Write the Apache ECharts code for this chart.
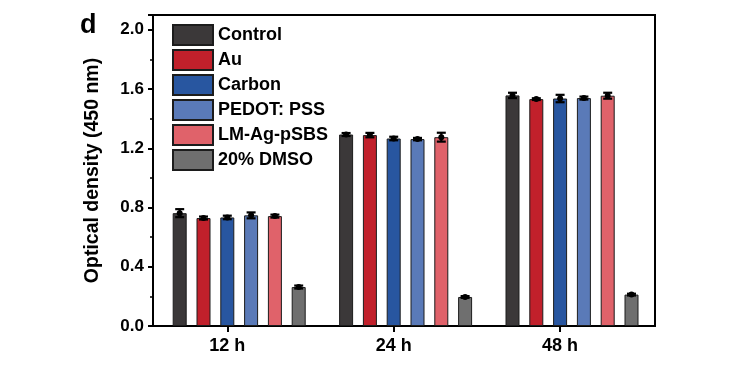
<!DOCTYPE html>
<html>
<head>
<meta charset="utf-8">
<script src="https://cdn.jsdelivr.net/npm/echarts@6/dist/echarts.min.js"></script>
<style>html,body{margin:0;padding:0;background:#fff;}#c{width:756px;height:378px;}</style>
</head>
<body>
<div id="c"></div>
<script>
const categories = ['12 h', '24 h', '48 h'];
const seriesNames = ['Control', 'Au', 'Carbon', 'PEDOT: PSS', 'LM-Ag-pSBS', '20% DMSO'];
const controlVals = [0.762, 1.293, 1.557];
const auVals      = [0.729, 1.289, 1.532];
const carbonVals  = [0.733, 1.266, 1.536];
const pedotVals   = [0.747, 1.262, 1.539];
const lmVals      = [0.742, 1.275, 1.555];
const dmsoVals    = [0.263, 0.196, 0.212];
const controlErr = [0.027, 0.010, 0.018];
const auErr      = [0.010, 0.015, 0.006];
const carbonErr  = [0.012, 0.012, 0.025];
const pedotErr   = [0.020, 0.008, 0.010];
const lmErr      = [0.010, 0.030, 0.020];
const dmsoErr    = [0.010, 0.006, 0.006];
const yTicks = [0, 0.4, 0.8, 1.2, 1.6, 2.0];

const values = [controlVals, auVals, carbonVals, pedotVals, lmVals, dmsoVals];
const errors = [controlErr, auErr, carbonErr, pedotErr, lmErr, dmsoErr];
const colors = ['#3b3839', '#c1202b', '#2856a0', '#5a7ab8', '#e0626a', '#6f6f6f'];

const FONT = 'Liberation Sans, Arial, sans-serif';
const BAR_W = 14;
const BAR_GAP = 0.7;
const PITCH = BAR_W * (1 + BAR_GAP);

const chart = echarts.init(document.getElementById('c'), null, {renderer: 'canvas'});

const series = [];
// empty placeholder slot so the category tick sits at the centre of the first five bars
series.push({type: 'bar', name: '_slot', xAxisIndex: 1, yAxisIndex: 1, data: categories.map(() => '-'),
  barWidth: BAR_W, barGap: (BAR_GAP * 100) + '%', silent: true});
seriesNames.forEach((n, k) => {
  series.push({
    type: 'bar', name: n, xAxisIndex: 1, yAxisIndex: 1,
    data: values[k], barWidth: BAR_W, barGap: (BAR_GAP * 100) + '%',
    itemStyle: {color: colors[k], borderColor: '#1c1c1c', borderWidth: 1},
    z: 2
  });
});
seriesNames.forEach((n, k) => {
  series.push({
    type: 'custom', name: n + '_err', xAxisIndex: 1, yAxisIndex: 1, z: 5, silent: true,
    data: categories.map((c, i) => [i, values[k][i], errors[k][i]]),
    renderItem: function (params, api) {
      const i = api.value(0), v = api.value(1), e = api.value(2);
      const off = (k - 2) * PITCH;
      const hi = api.coord([i, v + e]);
      const lo = api.coord([i, v - e]);
      const x = hi[0] + off;
      const cap = 4.5;
      const st = {stroke: '#000', lineWidth: 2.2, fill: null};
      return {type: 'group', children: [
        {type: 'line', shape: {x1: x, y1: hi[1], x2: x, y2: lo[1]}, style: st},
        {type: 'line', shape: {x1: x - cap, y1: hi[1], x2: x + cap, y2: hi[1]}, style: st},
        {type: 'line', shape: {x1: x - cap, y1: lo[1], x2: x + cap, y2: lo[1]}, style: st},
        {type: 'circle', shape: {cx: x, cy: api.coord([i, v])[1], r: 3}, style: {fill: '#000'}}
      ]};
    }
  });
});

const option = {
  animation: false,
  backgroundColor: '#fff',
  textStyle: {fontFamily: FONT},
  title: {text: 'd', left: 80, top: 12, padding: 0, textStyle: {fontSize: 27, fontWeight: 'bold', color: '#000', fontFamily: FONT}},
  legend: {
    data: seriesNames, orient: 'vertical', left: 172, top: 24, padding: 0,
    itemWidth: 40, itemHeight: 20, itemGap: 3, icon: 'rect',
    textStyle: {fontSize: 18, fontWeight: 'bold', color: '#000', fontFamily: FONT}
  },
  grid: [
    {left: 153, right: 101, top: 15, bottom: 52, show: true, borderColor: '#000', borderWidth: 2, backgroundColor: 'transparent'},
    {left: 144.1, width: 499.2, top: 15, bottom: 52}
  ],
  xAxis: [
    {gridIndex: 0, type: 'value', min: 0, max: 1, show: true,
     axisLine: {show: true, lineStyle: {color: '#000', width: 2}}, axisTick: {show: false},
     axisLabel: {show: false}, splitLine: {show: false}},
    {gridIndex: 1, type: 'category', data: categories, axisLine: {show: false},
     axisTick: {show: true, alignWithLabel: true, length: 6, lineStyle: {color: '#000', width: 2}},
     axisLabel: {fontSize: 18, fontWeight: 'bold', color: '#000', margin: 11, fontFamily: FONT},
     splitLine: {show: false}}
  ],
  yAxis: [
    {gridIndex: 0, type: 'value', min: 0, max: 2.1, interval: 0.4,
     name: 'Optical density (450 nm)', nameLocation: 'middle', nameGap: 50,
     nameTextStyle: {fontSize: 19.5, fontWeight: 'bold', color: '#000', fontFamily: FONT},
     axisLine: {show: true, lineStyle: {color: '#000', width: 2}},
     axisTick: {show: true, length: 5, lineStyle: {color: '#000', width: 2}},
     minorTick: {show: true, splitNumber: 2, length: 3, lineStyle: {color: '#000', width: 1.5}},
     axisLabel: {fontSize: 17, fontWeight: 'bold', color: '#000', margin: 9, fontFamily: FONT,
       formatter: v => yTicks.some(t => Math.abs(t - v) < 1e-6) ? v.toFixed(1) : ''},
     splitLine: {show: false}},
    {gridIndex: 1, type: 'value', min: 0, max: 2.1, show: false}
  ],
  series: series
};
chart.setOption(option);
</script>
</body>
</html>
